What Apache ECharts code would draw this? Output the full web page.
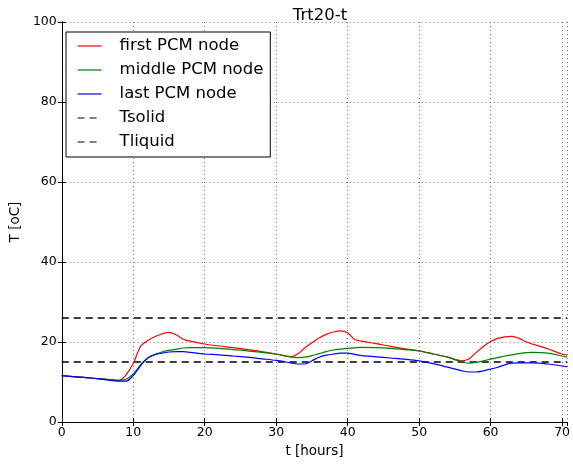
<!DOCTYPE html>
<html>
<head>
<meta charset="utf-8">
<script src="https://cdn.jsdelivr.net/npm/echarts@6/dist/echarts.min.js"></script>
<style>
  html, body { margin: 0; padding: 0; background: #fff; }
  #chart { width: 573px; height: 464px; }
</style>
</head>
<body>
<div id="chart"></div>
<script>
// time in hours
const hours = [0, 2, 4, 6, 8, 9, 10, 11, 12, 13, 14, 15, 16, 17, 18, 20, 22, 24, 26, 28, 30, 32, 33, 34, 35, 36, 37, 38, 39, 40, 41, 42, 44, 46, 48, 50, 52, 54, 56, 57, 58, 59, 60, 61, 62, 63, 64, 65, 66, 68, 70, 70.7]
const firstNode = [11.6, 11.3, 11.0, 10.7, 10.4, 11.8, 14.6, 18.8, 20.3, 21.3, 22.0, 22.4, 21.8, 20.7, 20.2, 19.5, 19.0, 18.6, 18.1, 17.6, 17.0, 16.3, 17.0, 18.5, 19.8, 21.0, 21.9, 22.5, 22.8, 22.3, 20.6, 20.2, 19.6, 18.9, 18.3, 17.8, 17.0, 16.2, 15.3, 15.8, 17.4, 18.9, 20.1, 20.9, 21.3, 21.4, 20.9, 20.0, 19.4, 18.3, 17.0, 16.7]
const middleNode = [11.6, 11.3, 11.0, 10.7, 10.4, 10.7, 12.0, 14.3, 16.0, 16.9, 17.5, 17.9, 18.2, 18.5, 18.6, 18.6, 18.4, 18.1, 17.8, 17.4, 17.0, 16.3, 16.1, 16.2, 16.6, 17.1, 17.6, 18.0, 18.2, 18.4, 18.55, 18.65, 18.6, 18.4, 18.1, 17.75, 17.0, 16.2, 15.0, 14.7, 14.9, 15.3, 15.7, 16.1, 16.5, 16.8, 17.1, 17.35, 17.4, 17.2, 16.5, 16.2]
const lastNode = [11.6, 11.3, 11.0, 10.6, 10.2, 10.2, 11.6, 14.0, 15.9, 16.8, 17.2, 17.5, 17.6, 17.6, 17.4, 17.0, 16.8, 16.5, 16.2, 15.8, 15.4, 14.8, 14.5, 14.5, 15.3, 16.2, 16.7, 17.0, 17.2, 17.2, 16.9, 16.6, 16.3, 16.0, 15.7, 15.3, 14.6, 13.7, 12.8, 12.5, 12.5, 12.8, 13.2, 13.7, 14.3, 14.7, 14.8, 14.8, 14.8, 14.5, 14.0, 13.8]
const tSolid = 15
const tLiquid = 26
const tEnd = 70.7

const pairs = (xs, ys) => xs.map((x, i) => [x, ys[i]])
const flat = (v) => [[0, v], [tEnd, v]]

const font = 'DejaVu Sans'
const chart = echarts.init(document.getElementById('chart'))

const frameAxis = (extra) => Object.assign({
  type: 'value',
  axisLine: { show: true, lineStyle: { color: '#000', width: 1 } },
  axisTick: { show: true, inside: true, length: 4, lineStyle: { color: '#000' } },
  splitLine: { show: false },
  axisLabel: { show: false }
}, extra)

const curve = (name, color, data) => ({
  name,
  type: 'line',
  symbol: 'none',
  smooth: 0.3,
  data,
  lineStyle: { color, width: 1.2 },
  itemStyle: { color },
  z: 3
})

const dashed = (name, value) => ({
  name,
  type: 'line',
  symbol: 'none',
  data: flat(value),
  lineStyle: { color: '#000', width: 1.3, type: [7, 5] },
  itemStyle: { color: '#000' },
  z: 2
})

chart.setOption({
  animation: false,
  backgroundColor: '#fff',
  title: {
    text: 'Trt20-t',
    left: 315,
    textAlign: 'center',
    top: 2,
    textStyle: { fontFamily: font, fontSize: 16.5, fontWeight: 'normal', color: '#000' }
  },
  legend: {
    orient: 'vertical',
    left: 66,
    top: 32,
    padding: [5, 7, 6, 11],
    borderColor: '#000',
    borderWidth: 1,
    backgroundColor: '#fff',
    itemWidth: 24,
    itemHeight: 18,
    itemGap: 6,
    itemStyle: { opacity: 0 },
    lineStyle: { width: 1.2 },
    data: ['first PCM node', 'middle PCM node', 'last PCM node', 'Tsolid', 'Tliquid'],
    textStyle: { fontFamily: font, fontSize: 16.5, lineHeight: 18, color: '#000', padding: [0, 0, 0, 13] }
  },
  grid: { left: 57, right: 3, top: 22, bottom: 42, containLabel: false },
  xAxis: [
    {
      type: 'value',
      min: 0,
      max: tEnd,
      interval: 10,
      name: 't [hours]',
      nameLocation: 'middle',
      nameGap: 22,
      nameTextStyle: { fontFamily: font, fontSize: 13.5, color: '#000' },
      axisLine: { show: true, lineStyle: { color: '#000', width: 1 } },
      axisTick: { show: true, inside: true, length: 4, lineStyle: { color: '#000' } },
      axisLabel: {
        fontFamily: font, fontSize: 12.5, color: '#000', margin: 4,
        showMaxLabel: false,
        formatter: (v) => (v % 10 === 0 ? String(v) : '')
      },
      splitLine: { show: true, lineStyle: { color: '#555', width: 0.8, type: [1, 3] } }
    },
    frameAxis({ position: 'top', min: 0, max: tEnd, interval: 10 })
  ],
  yAxis: [
    {
      type: 'value',
      min: 0,
      max: 100,
      interval: 20,
      name: 'T [oC]',
      nameLocation: 'middle',
      nameGap: 39,
      nameTextStyle: { fontFamily: font, fontSize: 13.5, color: '#000' },
      axisLine: { show: true, lineStyle: { color: '#000', width: 1 } },
      axisTick: { show: true, inside: true, length: 4, lineStyle: { color: '#000' } },
      axisLabel: { fontFamily: font, fontSize: 12.5, color: '#000', margin: 5 },
      splitLine: { show: true, lineStyle: { color: '#555', width: 0.8, type: [1, 3] } }
    },
    frameAxis({ position: 'right', min: 0, max: 100, interval: 20 })
  ],
  series: [
    curve('first PCM node', '#ff0000', pairs(hours, firstNode)),
    curve('middle PCM node', '#008000', pairs(hours, middleNode)),
    curve('last PCM node', '#0000ff', pairs(hours, lastNode)),
    dashed('Tsolid', tSolid),
    dashed('Tliquid', tLiquid)
  ]
})
</script>
</body>
</html>
